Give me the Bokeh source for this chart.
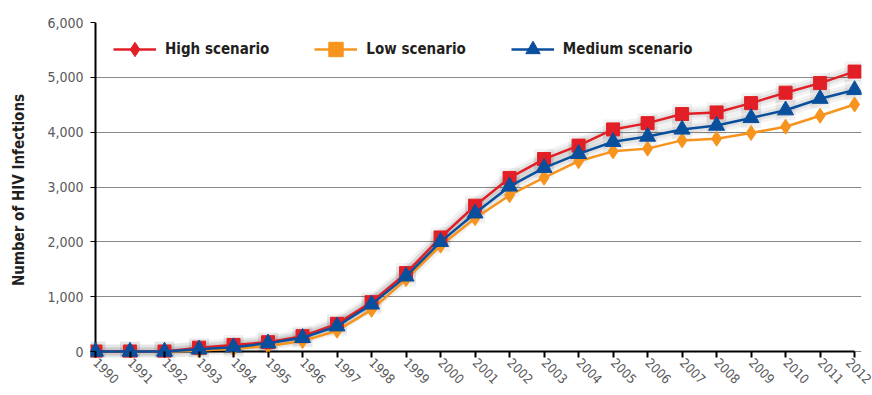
import math
from bokeh.plotting import figure
from bokeh.models import Range1d, FixedTicker, NumeralTickFormatter, Legend, LegendItem
from bokeh.embed import file_html
from bokeh.resources import INLINE

years = list(range(1990, 2013))
high = [0, 0, 0, 70, 120, 170, 280, 505, 900, 1430, 2080, 2660, 3165, 3510, 3755,
        4050, 4165, 4330, 4360, 4530, 4720, 4895, 5105]
medium = [0, 0, 0, 40, 80, 150, 250, 460, 860, 1370, 2000, 2520, 3010, 3350, 3605,
          3825, 3920, 4050, 4120, 4260, 4400, 4610, 4770]
low = [0, 0, 0, 20, 50, 100, 190, 380, 760, 1320, 1930, 2430, 2850, 3170, 3470,
       3650, 3700, 3850, 3880, 3985, 4100, 4300, 4505]
y_ticks = [0, 1000, 2000, 3000, 4000, 5000, 6000]
series_labels = ["High scenario", "Low scenario", "Medium scenario"]

RED = "#e21f26"
ORANGE = "#f7941d"
BLUE = "#0a4f9c"
FONT = "DejaVu Sans Condensed"
TXT = "#231f20"
GRAY = "#58595b"

p = figure(width=872, height=395, output_backend="svg", toolbar_location=None,
           x_range=Range1d(1989.855, 2012.2), y_range=Range1d(-109, 6000),
           min_border_left=90, min_border_right=11, min_border_top=22, min_border_bottom=38)
p.outline_line_color = None
p.background_fill_color = "white"
p.xgrid.visible = False
p.ygrid.ticker = FixedTicker(ticks=y_ticks)
p.ygrid.grid_line_color = "#8a8a8a"
p.ygrid.grid_line_width = 1

# axes (axis lines drawn at 0 / first year; ticks reach in to them)
p.xaxis.ticker = FixedTicker(ticks=years)
p.xaxis.axis_line_color = None
p.xaxis.major_tick_line_color = "black"
p.xaxis.major_tick_line_width = 2
p.xaxis.major_tick_out = 0
p.xaxis.major_tick_in = 6
p.xaxis.minor_tick_line_color = None
p.xaxis.major_label_orientation = -math.pi / 4
p.xaxis.major_label_standoff = 3
p.xaxis.major_label_text_font = FONT
p.xaxis.major_label_text_font_size = "13px"
p.xaxis.major_label_text_color = GRAY

p.yaxis.ticker = FixedTicker(ticks=y_ticks)
p.yaxis.formatter = NumeralTickFormatter(format="0,0")
p.yaxis.axis_line_color = None
p.yaxis.major_tick_line_color = "black"
p.yaxis.major_tick_line_width = 1
p.yaxis.major_tick_out = 0
p.yaxis.major_tick_in = 5
p.yaxis.minor_tick_line_color = None
p.yaxis.major_label_standoff = 7
p.yaxis.major_label_text_font = FONT
p.yaxis.major_label_text_font_size = "14px"
p.yaxis.major_label_text_color = GRAY
p.yaxis.axis_label = "Number of HIV Infections"
p.yaxis.axis_label_text_font = FONT
p.yaxis.axis_label_text_font_size = "15px"
p.yaxis.axis_label_text_font_style = "bold"
p.yaxis.axis_label_text_color = TXT
p.yaxis.axis_label_standoff = 16

# axis lines
p.segment(x0=[years[0]], y0=[y_ticks[0]], x1=[years[-1]], y1=[y_ticks[0]],
          line_color="black", line_width=2)
p.segment(x0=[years[0]], y0=[y_ticks[0]], x1=[years[0]], y1=[y_ticks[-1]],
          line_color="black", line_width=2)

# soft shadow behind the series
for vals in (high, medium):
    p.line(years, vals, line_color="black", line_alpha=0.05, line_width=14)
    p.line(years, vals, line_color="black", line_alpha=0.06, line_width=8)
    p.scatter(years, vals, marker="square", size=20, fill_color="black",
              fill_alpha=0.05, line_color=None)

# data series
p.line(years, low, color=ORANGE, line_width=2.5)
p.scatter(years, low, marker="diamond", size=15, color=ORANGE)
p.line(years, high, color=RED, line_width=2.5)
p.scatter(years, high, marker="square", size=13, color=RED)
p.line(years, medium, color=BLUE, line_width=2.5)
p.scatter(years, medium, marker="triangle", size=16, color=BLUE)

# legend-only renderers (legend markers as in the original), not drawn in the plot
nan = [float("nan")]
lh_l = p.line(nan, nan, color=RED, line_width=2.5)
lh_m = p.scatter(nan, nan, marker="diamond", color=RED)
ll_l = p.line(nan, nan, color=ORANGE, line_width=2.5)
ll_m = p.scatter(nan, nan, marker="square", color=ORANGE)
lm_l = p.line(nan, nan, color=BLUE, line_width=2.5)
lm_m = p.scatter(nan, nan, marker="triangle", color=BLUE)

legend = Legend(items=[
    LegendItem(label=series_labels[0], renderers=[lh_l, lh_m]),
    LegendItem(label=series_labels[1], renderers=[ll_l, ll_m]),
    LegendItem(label=series_labels[2], renderers=[lm_l, lm_m]),
], orientation="horizontal", location=(23, 290), padding=0, margin=0,
    spacing=45, glyph_width=43, glyph_height=36, label_height=36, label_standoff=9,
    border_line_color=None, background_fill_alpha=0,
    label_text_font=FONT, label_text_font_size="15px", label_text_font_style="bold",
    label_text_color=TXT)
p.add_layout(legend)

open("out.html", "w").write(file_html(p, INLINE))
